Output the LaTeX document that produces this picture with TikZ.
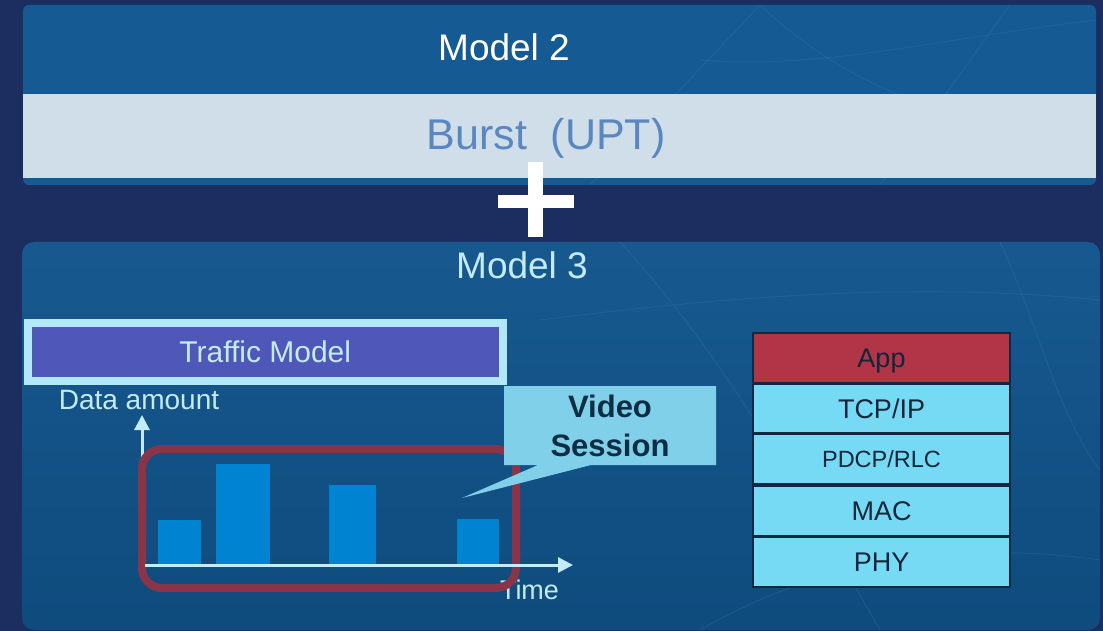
\documentclass[tikz,border=0pt]{standalone}
\usepackage{fontspec}
\setmainfont{Liberation Sans}
\usetikzlibrary{arrows.meta}

\definecolor{navybg}{HTML}{1C2E60}
\definecolor{paneltop}{HTML}{165A93}
\definecolor{bandgray}{HTML}{D0DEEA}
\definecolor{bursttext}{HTML}{5A87C0}
\definecolor{panelhi}{HTML}{17598F}
\definecolor{panello}{HTML}{0F4B7D}
\definecolor{paletext}{HTML}{C4ECF8}
\definecolor{tmborder}{HTML}{B3E8F8}
\definecolor{tmfill}{HTML}{4F57B8}
\definecolor{barblue}{HTML}{0084D1}
\definecolor{sessred}{HTML}{8A3449}
\definecolor{callout}{HTML}{7FD0E8}
\definecolor{calltext}{HTML}{0D2D45}
\definecolor{stackline}{HTML}{0F2A40}
\definecolor{stackcyan}{HTML}{77DAF5}
\definecolor{stackred}{HTML}{B23547}
\definecolor{stacktext}{HTML}{10263A}
\definecolor{netline}{HTML}{3C7DB4}

\tikzset{
  bigtitle/.style={font=\fontsize{37}{44}\selectfont},
  axisline/.style={draw=paletext, line width=3pt,
    -{Triangle[width=15pt,length=15pt]}},
  barrect/.style={fill=barblue},
  layerbox/.style={draw=stackline, line width=2.5pt, minimum width=257pt,
    minimum height=50pt, inner sep=0pt, text=stacktext,
    text height=19.5pt, text depth=0pt,
    font=\fontsize{27}{32}\selectfont},
  faint/.style={draw=netline, line width=1pt, opacity=0.25},
}

\begin{document}
\begin{tikzpicture}[x=1pt,y=-1pt]
\useasboundingbox (0,0) rectangle (1103,631);
\fill[navybg] (0,0) rectangle (1103,631);

% upper panel: Model 2
\fill[paneltop, rounded corners=6pt] (23,5) rectangle (1096,185);
\begin{scope}
  \clip[rounded corners=6pt] (23,5) rectangle (1096,185);
  \draw[faint] (590,185) -- (760,5);
  \draw[faint] (760,5) .. controls (850,90) and (950,120) .. (1096,150);
  \draw[faint] (880,185) -- (1010,5);
  \draw[faint] (700,60) .. controls (820,70) and (930,40) .. (1096,20);
\end{scope}
\fill[bandgray] (23,94) rectangle (1096,178);
\node[bigtitle, text=white] (m2) at (504,47) {Model 2};
\node[font=\fontsize{43}{50}\selectfont, text=bursttext] (burst) at (546,138)
  {Burst\hspace{0.55em}(UPT)};

% plus sign
\fill[white] (528,162) rectangle (543,237);
\fill[white] (498,195) rectangle (574,208);

% lower panel: Model 3
\shade[top color=panelhi, bottom color=panello, rounded corners=12pt]
  (22,242) rectangle (1100,630);
\begin{scope}
  \clip[rounded corners=12pt] (22,242) rectangle (1100,630);
  \draw[faint] (620,242) .. controls (700,330) and (760,420) .. (880,630);
  \draw[faint] (1000,242) .. controls (1040,330) and (1060,420) .. (1100,470);
  \draw[faint] (540,320) .. controls (700,300) and (900,280) .. (1100,300);
  \draw[faint] (700,630) .. controls (820,560) and (960,540) .. (1100,560);
\end{scope}
\node[bigtitle, text=paletext] (m3) at (522,265) {Model 3};

% traffic model heading
\node[draw=tmborder, line width=8pt, fill=tmfill, minimum width=475.5pt,
  minimum height=58pt, inner sep=0pt, text=paletext,
  font=\fontsize{30}{36}\selectfont] (tm) at (265.25,352) {Traffic Model};

% axes and bars
\coordinate (orig) at (142,565);
\coordinate (ytip) at (142,415);
\coordinate (xstart) at (145,565);
\coordinate (xtip) at (573,565);
\node[text=paletext, font=\fontsize{28}{33}\selectfont] (ylab) at (139,400)
  {Data amount};
\node[text=paletext, font=\fontsize{27}{32}\selectfont] (xlab) at (529.5,590)
  {Time};
\draw[axisline] (orig) -- (ytip);

\fill[barrect] (158,520) rectangle (201,565);
\fill[barrect] (216,464) rectangle (270,565);
\fill[barrect] (329,485) rectangle (376,565);
\fill[barrect] (457,519) rectangle (499,565);

% session frame
\draw[sessred, line width=8pt, rounded corners=20pt] (142,449) rectangle (516,588);
\draw[axisline] (xstart) -- (xtip);

% callout
\fill[callout] (504,386) -- (716,386) -- (716,465) -- (591,465) -- (462,498)
  -- (538,465) -- (504,465) -- cycle;
\node[align=center, text=calltext, font=\fontsize{31}{39}\selectfont\bfseries]
  (video) at (610,426) {Video\\Session};

% protocol stack
\node[layerbox, fill=stackred] (app) at (881.5,358) {App};
\node[layerbox, fill=stackcyan] (tcp) at (881.5,408.5) {TCP/IP};
\node[layerbox, fill=stackcyan, font=\fontsize{23.5}{28}\selectfont,
  text height=17pt] (pdcp) at (881.5,459) {PDCP/RLC};
\node[layerbox, fill=stackcyan] (mac) at (881.5,511) {MAC};
\node[layerbox, fill=stackcyan] (phy) at (881.5,562) {PHY};
\end{tikzpicture}
\end{document}
